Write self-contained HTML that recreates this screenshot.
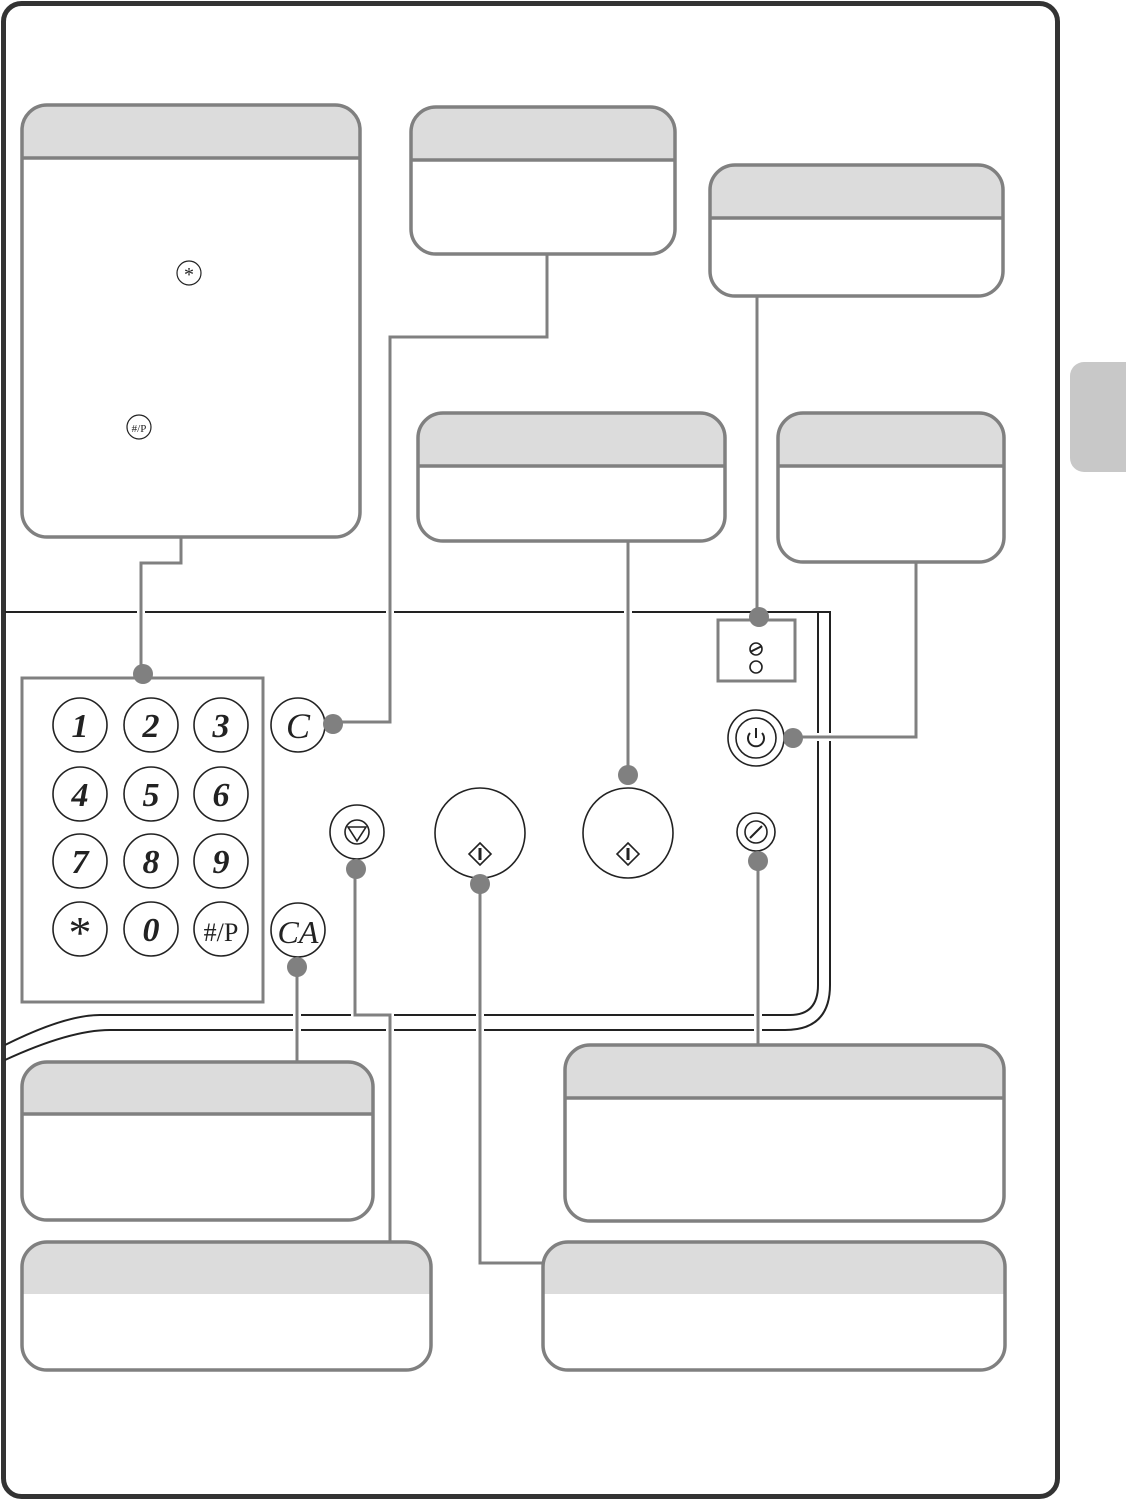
<!DOCTYPE html>
<html><head><meta charset="utf-8"><style>html,body{margin:0;padding:0;background:#fff}svg{display:block}</style></head>
<body>
<svg width="1126" height="1500" viewBox="0 0 1126 1500" xmlns="http://www.w3.org/2000/svg" font-family="Liberation Serif, serif">
<rect x="1070" y="362" width="70" height="110" rx="14" fill="#c8c8c8"/>
<rect x="3.5" y="3.5" width="1054" height="1493" rx="18" fill="#fff" stroke="#333" stroke-width="5"/>
<!-- panel lines -->
<g fill="none" stroke="#222" stroke-width="2">
<path d="M5,612 H830 V985 Q830,1030 785,1030 H110 Q70,1030 5,1060"/>
<path d="M818,612 V985 Q818,1015 790,1015 H100 Q65,1015 5,1045"/>
</g>
<!-- boxes -->
<g stroke="#808080" stroke-width="3.5">
<g>
<path d="M22,158 V130 A25 25 0 0 1 47,105 H335 A25 25 0 0 1 360,130 V158Z" fill="#dcdcdc" stroke="none"/>
<rect x="22" y="105" width="338" height="432" rx="25" fill="none"/><line x1="22" y1="158" x2="360" y2="158"/>
</g>
<g>
<path d="M411,160 V132 A25 25 0 0 1 436,107 H650 A25 25 0 0 1 675,132 V160Z" fill="#dcdcdc" stroke="none"/>
<rect x="411" y="107" width="264" height="147" rx="25" fill="none"/><line x1="411" y1="160" x2="675" y2="160"/>
</g>
<g>
<path d="M710,218 V190 A25 25 0 0 1 735,165 H978 A25 25 0 0 1 1003,190 V218Z" fill="#dcdcdc" stroke="none"/>
<rect x="710" y="165" width="293" height="131" rx="25" fill="none"/><line x1="710" y1="218" x2="1003" y2="218"/>
</g>
<g>
<path d="M418,466 V438 A25 25 0 0 1 443,413 H700 A25 25 0 0 1 725,438 V466Z" fill="#dcdcdc" stroke="none"/>
<rect x="418" y="413" width="307" height="128" rx="25" fill="none"/><line x1="418" y1="466" x2="725" y2="466"/>
</g>
<g>
<path d="M778,466 V438 A25 25 0 0 1 803,413 H979 A25 25 0 0 1 1004,438 V466Z" fill="#dcdcdc" stroke="none"/>
<rect x="778" y="413" width="226" height="149" rx="25" fill="none"/><line x1="778" y1="466" x2="1004" y2="466"/>
</g>
<g>
<path d="M22,1114 V1087 A25 25 0 0 1 47,1062 H348 A25 25 0 0 1 373,1087 V1114Z" fill="#dcdcdc" stroke="none"/>
<rect x="22" y="1062" width="351" height="158" rx="25" fill="none"/><line x1="22" y1="1114" x2="373" y2="1114"/>
</g>
<g>
<path d="M565,1098 V1070 A25 25 0 0 1 590,1045 H979 A25 25 0 0 1 1004,1070 V1098Z" fill="#dcdcdc" stroke="none"/>
<rect x="565" y="1045" width="439" height="176" rx="25" fill="none"/><line x1="565" y1="1098" x2="1004" y2="1098"/>
</g>
<g>
<path d="M22,1294 V1267 A25 25 0 0 1 47,1242 H406 A25 25 0 0 1 431,1267 V1294Z" fill="#dcdcdc" stroke="none"/>
<rect x="22" y="1242" width="409" height="128" rx="25" fill="none"/>
</g>
<g>
<path d="M543,1294 V1267 A25 25 0 0 1 568,1242 H980 A25 25 0 0 1 1005,1267 V1294Z" fill="#dcdcdc" stroke="none"/>
<rect x="543" y="1242" width="462" height="128" rx="25" fill="none"/>
</g>
</g>
<!-- small icons in box A -->
<circle cx="189" cy="273" r="12" fill="none" stroke="#222" stroke-width="1.2"/>
<text x="189" y="281" font-size="20" text-anchor="middle" fill="#222">*</text>
<circle cx="139" cy="427" r="12" fill="none" stroke="#222" stroke-width="1.2"/>
<text x="139" y="432" font-size="11" text-anchor="middle" fill="#222">#/P</text>
<!-- keypad -->
<rect x="22" y="678" width="241" height="324" fill="none" stroke="#808080" stroke-width="3"/>
<g fill="none" stroke="#222" stroke-width="1.6">
<circle cx="80" cy="725" r="27"/><circle cx="151" cy="725" r="27"/><circle cx="221" cy="725" r="27"/>
<circle cx="80" cy="794" r="27"/><circle cx="151" cy="794" r="27"/><circle cx="221" cy="794" r="27"/>
<circle cx="80" cy="861" r="27"/><circle cx="151" cy="861" r="27"/><circle cx="221" cy="861" r="27"/>
<circle cx="80" cy="929" r="27"/><circle cx="151" cy="929" r="27"/><circle cx="221" cy="929" r="27"/>
<circle cx="298" cy="725" r="27"/><circle cx="298" cy="930" r="27"/>
<circle cx="357" cy="832" r="27"/>
<circle cx="357" cy="832" r="12"/><path d="M348,827 H366 L357,841Z"/>
<circle cx="480" cy="833" r="45"/><circle cx="628" cy="833" r="45"/>
<path d="M480,843 L491,854 L480,865 L469,854Z"/><path d="M628,843 L639,854 L628,865 L617,854Z"/>
<circle cx="756" cy="738" r="28"/><circle cx="756" cy="738" r="20"/>
<path d="M750,733 A8 8 0 1 0 762,733" stroke-width="2"/><line x1="756" y1="728" x2="756" y2="738" stroke-width="2"/>
<circle cx="756" cy="832" r="19"/><circle cx="756" cy="832" r="11"/>
<circle cx="756" cy="649" r="6"/><circle cx="756" cy="667" r="6"/>
</g>
<line x1="480" y1="848" x2="480" y2="860" stroke="#222" stroke-width="3"/>
<line x1="628" y1="848" x2="628" y2="860" stroke="#222" stroke-width="3"/>
<path d="M750,838 L762,826 M750,652 L762,646" stroke="#222" stroke-width="2"/>
<rect x="718" y="620" width="77" height="61" fill="none" stroke="#808080" stroke-width="3"/>
<g font-style="italic" font-weight="bold" font-size="34" text-anchor="middle" fill="#222">
<text x="80" y="737">1</text><text x="151" y="737">2</text><text x="221" y="737">3</text>
<text x="80" y="806">4</text><text x="151" y="806">5</text><text x="221" y="806">6</text>
<text x="80" y="873">7</text><text x="151" y="873">8</text><text x="221" y="873">9</text>
<text x="151" y="941">0</text>
<text x="298" y="738" font-weight="normal" font-size="36">C</text>
<text x="298" y="943" font-weight="normal" font-size="32">CA</text>
</g>
<text x="80" y="948" font-size="46" text-anchor="middle" fill="#222">*</text>
<text x="221" y="941" font-size="26" text-anchor="middle" fill="#222">#/P</text>
<!-- connectors -->
<g fill="none" stroke-linejoin="miter">
<g stroke="#fff" stroke-width="8">
<path d="M181,540 V563 H141 V670"/><path d="M547,257 V337 H390 V722 H335"/>
<path d="M916,565 V737 H795"/><path d="M355,869 V1015 H390 V1239"/><path d="M480,883 V1263 H540"/>
<path d="M758,861 V1042"/><path d="M297,967 V1059"/><path d="M628,544 V775"/><path d="M757,299 V617"/>
</g>
<g stroke="#808080" stroke-width="3">
<path d="M181,537 V563 H141 V673"/><path d="M547,254 V337 H390 V722 H333"/>
<path d="M916,562 V737 H793"/><path d="M355,869 V1015 H390 V1242"/><path d="M480,883 V1263 H543"/>
<path d="M758,861 V1045"/><path d="M297,967 V1062"/><path d="M628,541 V775"/><path d="M757,296 V617"/>
</g>
</g>
<g fill="#808080">
<circle cx="143" cy="674" r="10"/><circle cx="333" cy="724" r="10"/><circle cx="628" cy="775" r="10"/>
<circle cx="759" cy="617" r="10"/><circle cx="793" cy="738" r="10"/><circle cx="297" cy="967" r="10"/>
<circle cx="356" cy="869" r="10"/><circle cx="480" cy="884" r="10"/><circle cx="758" cy="861" r="10"/>
</g>
</svg>
</body></html>
